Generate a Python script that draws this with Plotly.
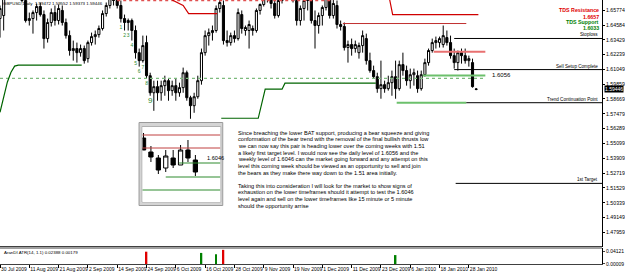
import plotly.graph_objects as go

# ---------------- data ----------------
opens = [1.6513,1.6537,1.6698,1.6859,1.6900,1.6940,1.6819,1.6658,1.6497,1.6513,
         1.6561,1.6610,1.6545,1.6352,1.6481,1.6561,1.6497,1.6578,1.6481,1.6376,
         1.6256,1.6272,1.6239,1.6272,1.6191,1.6320,1.6368,1.6384,1.6433,1.6553,
         1.6618,1.6682,1.6658,1.6618,1.6513,1.6481,1.6497,1.6417,1.6239,1.6175,
         1.6320,1.6054,1.5917,1.5966,1.5917,1.5974,1.6014,1.5934,1.5974,1.5917,
         1.5958,1.6078,1.5877,1.5813,1.5885,1.6014,1.6239,1.6376,1.6400,1.6417,
         1.6594,1.6618,1.6336,1.6320,1.6376,1.6352,1.6545,1.6417,1.6417,1.6433,
         1.6417,1.6578,1.6626,1.6682,1.6706,1.6634,1.6537,1.6658,1.6698,1.6722,
         1.6739,1.6658,1.6497,1.6594,1.6658,1.6682,1.6497,1.6457,1.6537,1.6602,
         1.6674,1.6537,1.6618,1.6465,1.6449,1.6280,1.6304,1.6272,1.6239,1.6296,
         1.6352,1.6175,1.6095,1.6046,1.5950,1.5982,1.5950,1.5998,1.6046,1.5950,
         1.6143,1.6095,1.6014,1.6062,1.6054,1.5950,1.6062,1.6159,1.6256,1.6320,
         1.6320,1.6304,1.6360,1.6320,1.6215,1.6159,1.6239,1.6215,1.6175,1.6159,
         1.59472]
highs = [1.6618,1.6739,1.6900,1.6980,1.7020,1.6980,1.6859,1.6698,1.6561,1.6578,
         1.6634,1.6642,1.6578,1.6513,1.6594,1.6618,1.6626,1.6618,1.6513,1.6417,
         1.6336,1.6320,1.6304,1.6296,1.6336,1.6400,1.6417,1.6457,1.6578,1.6642,
         1.6722,1.6755,1.6698,1.6658,1.6545,1.6513,1.6513,1.6457,1.6272,1.6376,
         1.6376,1.6078,1.6014,1.6014,1.6014,1.6054,1.6030,1.6014,1.6030,1.5998,
         1.6119,1.6095,1.5893,1.5917,1.6054,1.6272,1.6417,1.6433,1.6457,1.6618,
         1.6698,1.6658,1.6417,1.6400,1.6417,1.6594,1.6578,1.6457,1.6497,1.6457,
         1.6594,1.6634,1.6722,1.6739,1.6755,1.6674,1.6698,1.6739,1.6755,1.6779,
         1.6755,1.6698,1.6618,1.6698,1.6722,1.6698,1.6578,1.6561,1.6618,1.6698,
         1.6706,1.6674,1.6658,1.6497,1.6481,1.6336,1.6352,1.6336,1.6320,1.6417,
         1.6392,1.6239,1.6135,1.6078,1.6175,1.6014,1.6054,1.6095,1.6175,1.6175,
         1.6239,1.6135,1.6111,1.6111,1.6095,1.6095,1.6191,1.6272,1.6352,1.6368,
         1.6368,1.6457,1.6417,1.6376,1.6272,1.6256,1.6272,1.6272,1.6215,1.6191,
         1.59552]
lows = [1.6360,1.6417,1.6682,1.6819,1.6859,1.6779,1.6642,1.6481,1.6457,1.6392,
        1.6497,1.6529,1.6272,1.6320,1.6449,1.6457,1.6465,1.6457,1.6352,1.6215,
        1.6175,1.6159,1.6207,1.6151,1.6159,1.6296,1.6304,1.6360,1.6417,1.6529,
        1.6594,1.6618,1.6594,1.6481,1.6417,1.6417,1.6336,1.6191,1.6127,1.6159,
        1.6030,1.5893,1.5772,1.5853,1.5853,1.5893,1.5853,1.5893,1.5853,1.5885,
        1.5917,1.5853,1.5708,1.5756,1.5869,1.5982,1.6215,1.6296,1.6336,1.6400,
        1.6561,1.6304,1.6288,1.6296,1.6320,1.6336,1.6392,1.6376,1.6272,1.6376,
        1.6400,1.6545,1.6610,1.6642,1.6594,1.6513,1.6521,1.6634,1.6674,1.6682,
        1.6642,1.6457,1.6457,1.6497,1.6578,1.6473,1.6272,1.6392,1.6457,1.6578,
        1.6513,1.6513,1.6433,1.6417,1.6256,1.6159,1.6215,1.6239,1.6191,1.6239,
        1.6143,1.6078,1.6030,1.5917,1.5869,1.5917,1.5934,1.5893,1.5869,1.5934,
        1.6054,1.5974,1.5950,1.5974,1.5917,1.5934,1.6046,1.6135,1.6239,1.6272,
        1.6280,1.6280,1.6296,1.6191,1.6111,1.6095,1.6151,1.6151,1.6127,1.5958,
        1.59373]
closes = [1.6594,1.6698,1.6859,1.6900,1.6940,1.6819,1.6658,1.6497,1.6513,1.6561,
          1.6610,1.6545,1.6352,1.6481,1.6561,1.6497,1.6594,1.6481,1.6376,1.6256,
          1.6272,1.6239,1.6272,1.6175,1.6320,1.6368,1.6384,1.6433,1.6553,1.6618,
          1.6682,1.6658,1.6618,1.6513,1.6481,1.6497,1.6417,1.6239,1.6175,1.6296,
          1.6054,1.5917,1.5966,1.5917,1.5974,1.6014,1.5934,1.5974,1.5917,1.5958,
          1.6078,1.5877,1.5813,1.5885,1.6014,1.6239,1.6376,1.6400,1.6417,1.6594,
          1.6642,1.6336,1.6320,1.6376,1.6352,1.6561,1.6433,1.6441,1.6465,1.6417,
          1.6578,1.6626,1.6682,1.6706,1.6634,1.6537,1.6658,1.6698,1.6722,1.6739,
          1.6658,1.6497,1.6594,1.6658,1.6682,1.6497,1.6457,1.6537,1.6602,1.6674,
          1.6537,1.6634,1.6465,1.6449,1.6280,1.6304,1.6272,1.6304,1.6296,1.6376,
          1.6175,1.6095,1.6046,1.5950,1.5982,1.5950,1.5998,1.6046,1.5950,1.6143,
          1.6095,1.6014,1.6062,1.6078,1.5950,1.6062,1.6159,1.6256,1.6320,1.6336,
          1.6352,1.6376,1.6320,1.6215,1.6159,1.6239,1.6215,1.6175,1.6191,1.5966,
          1.59446]
bars = list(range(len(closes)))

date_tick_bars = [0, 8, 16, 24, 32, 40, 48, 56, 64, 72, 80, 88, 96, 104, 112, 120, 128]
date_tick_labels = ["30 Jul 2009", "11 Aug 2009", "21 Aug 2009", "2 Sep 2009", "14 Sep 2009",
                    "24 Sep 2009", "6 Oct 2009", "16 Oct 2009", "28 Oct 2009", "9 Nov 2009",
                    "19 Nov 2009", "1 Dec 2009", "11 Dec 2009", "23 Dec 2009", "6 Jan 2010",
                    "18 Jan 2010", "28 Jan 2010"]
price_ticks = [1.65774, 1.64584, 1.63429, 1.62239, 1.61049, 1.59859, 1.58669, 1.57479,
               1.56289, 1.55099, 1.53909, 1.52719, 1.51529, 1.50339, 1.49149, 1.47959, 1.46769]

# indicator (AranDI ATR) histogram
atr_bars = [40, 55, 59, 61, 108]
atr_values = [0.040, 0.036, 0.032, 0.046, 0.029]
atr_colors = ["#e00000", "#008000", "#008000", "#e00000", "#008000"]
atr_ticks = [0.04121, 0.00009]

# TDS levels
tds_resistance = 1.6657
tds_support = 1.6033
daily_level = 1.6056
stoploss = 1.6353
sell_setup = 1.6103
trend_cont = 1.5837
first_target = 1.5189

# stepped indicator lines (bar index, price)
red_step1_x = [47, 50, 51.5, 59.3]
red_step1_y = [1.6662, 1.6618, 1.6553, 1.6553]
red_step2_x = [106.4, 107.2, 130.6]
red_step2_y = [1.6662, 1.6545, 1.6545]
red_thin_x = [93.6, 127.3]
red_thin_y = [1.6473, 1.6473]
red_thick_x = [118.4, 132.5]
red_thick_y = [1.6247, 1.6247]
green_step1_x = [0, 1, 2, 3, 4, 5, 22.3]
green_step1_y = [1.5760, 1.5873, 1.6002, 1.6082, 1.6131, 1.6139, 1.6139]
green_step2_x = [60.4, 70.5, 72.4, 77.0, 77.8, 102.6]
green_step2_y = [1.5712, 1.5712, 1.5946, 1.5946, 1.5994, 1.5994]
lgreen1_x = [115.4, 132.5]
lgreen2_x = [108.3, 127.3]

# TD sequential counts
td_bars = [33, 34, 35, 36, 37, 38, 39, 40, 41]
td_labels = ["1", "2", "3", "4", "5", "6", "7", "8", "9"]

# inset (weekly) chart
in_open = [1.6421, 1.6211, 1.6121, 1.5971, 1.6121, 1.6016, 1.6241, 1.6091]
in_high = [1.6496, 1.6301, 1.6166, 1.6241, 1.6241, 1.6316, 1.6391, 1.6166]
in_low = [1.6241, 1.6061, 1.5881, 1.5911, 1.5971, 1.6016, 1.6061, 1.5851]
in_close = [1.6241, 1.6136, 1.5941, 1.6151, 1.6016, 1.6241, 1.6121, 1.5911]
in_red_levels = [1.6466, 1.6271]
in_level = 1.6046

para_lines = [
    "Since breaching the lower BAT support, producing a bear squeeze and giving",
    "conformation of the bear trend with the removal of the final bullish thrusts low",
    "we can now say this pair is heading lower over the coming weeks with 1.51",
    "a likely first target level. I would now see the daily level of 1.6056 and the",
    "weekly level of 1.6046 can the market going forward and any attempt on this",
    "level this coming week should be viewed as an opportunity to sell and join",
    "the bears as they make there way down to the 1.51 area initially.",
    "",
    "Taking this into consideration I will look for the market to show signs of",
    "exhaustion on the lower timeframes should it attempt to test the 1.6046",
    "level again and sell on the lower timeframes like 15 minute or 5 minute",
    "should the opportunity arrise",
]

# ---------------- layout helpers ----------------
PW, PH = 604, 264
FONT = "Liberation Sans, Arial, sans-serif"


def pxx(px):
    return px / PW


def pxy(py):
    return (PH - py) / PH


fig = go.Figure()

fig.add_trace(go.Candlestick(
    x=bars, open=opens, high=highs, low=lows, close=closes,
    increasing=dict(fillcolor="white", line=dict(color="black", width=1)),
    decreasing=dict(fillcolor="black", line=dict(color="black", width=1)),
    whiskerwidth=0, xaxis="x", yaxis="y", showlegend=False, hoverinfo="skip"))

LASTX = 164.35


def hline(x0, x1, y, color, width=1, dash="solid"):
    fig.add_trace(go.Scatter(x=[x0, x1], y=[y, y], mode="lines",
                             line=dict(color=color, width=width, dash=dash),
                             xaxis="x", yaxis="y", showlegend=False, hoverinfo="skip"))


def pline(xs, ys, color, width=1):
    fig.add_trace(go.Scatter(x=xs, y=ys, mode="lines", line=dict(color=color, width=width),
                             xaxis="x", yaxis="y", showlegend=False, hoverinfo="skip"))


hline(0, 132.5, tds_support, "#7cba7c", 1.2, "dot")
hline(32, 91, tds_resistance, "#e05050", 1.2, "dot")
pline(red_step1_x, red_step1_y, "#d00000", 1.2)
pline(red_step2_x, red_step2_y, "#d00000", 1.2)
pline(red_thin_x, red_thin_y, "#c03030", 1)
pline(red_thick_x, red_thick_y, "#e87070", 2)
pline(green_step1_x, green_step1_y, "#006400", 1.2)
pline(green_step2_x, green_step2_y, "#006400", 1.2)
hline(lgreen1_x[0], lgreen1_x[1], daily_level, "#6cc06c", 2)
hline(lgreen2_x[0], lgreen2_x[1], trend_cont, "#6cc06c", 2)
hline(124, LASTX, stoploss, "black", 1)
hline(124, LASTX, sell_setup, "black", 1)
hline(127.3, LASTX, trend_cont, "black", 1)
hline(124.4, LASTX, first_target, "black", 1)

# TD sequential numbers
fig.add_trace(go.Scatter(
    x=td_bars, y=[lows[b] - 0.004 for b in td_bars], mode="text", text=td_labels,
    textfont=dict(color="#2e8b2e", size=[5, 5, 5, 5, 5, 5, 5, 5, 8], family=FONT),
    xaxis="x", yaxis="y", showlegend=False, hoverinfo="skip"))

# indicator histogram
fig.add_trace(go.Bar(x=atr_bars, y=atr_values, marker=dict(color=atr_colors, line=dict(width=0)),
                     width=0.45, xaxis="x", yaxis="y2", showlegend=False, hoverinfo="skip"))

# inset candles
in_x = list(range(len(in_close)))
fig.add_trace(go.Candlestick(
    x=in_x, open=in_open, high=in_high, low=in_low, close=in_close,
    increasing=dict(fillcolor="white", line=dict(color="black", width=1)),
    decreasing=dict(fillcolor="black", line=dict(color="black", width=1)),
    whiskerwidth=0, xaxis="x3", yaxis="y3", showlegend=False, hoverinfo="skip"))
for lv in in_red_levels:
    fig.add_trace(go.Scatter(x=[-0.2, 10.4], y=[lv, lv], mode="lines",
                             line=dict(color="#c04040", width=1), xaxis="x3", yaxis="y3",
                             showlegend=False, hoverinfo="skip"))
fig.add_trace(go.Scatter(x=[4.8, 10.4], y=[in_level, in_level], mode="lines",
                         line=dict(color="#2e8b2e", width=1), xaxis="x3", yaxis="y3",
                         showlegend=False, hoverinfo="skip"))
fig.add_trace(go.Scatter(x=[3.0, 10.4], y=[1.5836, 1.5836], mode="lines",
                         line=dict(color="#2e8b2e", width=1), xaxis="x3", yaxis="y3",
                         showlegend=False, hoverinfo="skip"))
fig.add_trace(go.Scatter(x=[-0.2, 10.4], y=[1.5641, 1.5641], mode="lines",
                         line=dict(color="#2e8b2e", width=1), xaxis="x3", yaxis="y3",
                         showlegend=False, hoverinfo="skip"))

shapes = [
    # inset frame
    dict(type="rect", xref="paper", yref="paper", x0=pxx(139.5), x1=pxx(223.5),
         y0=pxy(205.5), y1=pxy(122.5), fillcolor="#d4d4d4", line=dict(color="#9a9a9a", width=1),
         layer="below"),
    dict(type="rect", xref="paper", yref="paper", x0=pxx(142.5), x1=pxx(221.5),
         y0=pxy(202), y1=pxy(126.5), fillcolor="#f2f2f2", line=dict(color="#b0b0b0", width=1),
         layer="below"),
    # panel separators
    dict(type="line", xref="paper", yref="paper", x0=0, x1=1, y0=pxy(246.5), y1=pxy(246.5),
         line=dict(color="#404040", width=1)),
    dict(type="line", xref="paper", yref="paper", x0=0, x1=1, y0=pxy(248), y1=pxy(248),
         line=dict(color="#404040", width=1)),
]

ann = []
for k, t in enumerate(para_lines):
    if t:
        ann.append(dict(text=t, xref="paper", yref="paper", x=pxx(237), y=pxy(132.7 + 6.64 * k),
                        xanchor="left", yanchor="middle", showarrow=False,
                        font=dict(size=5.6, color="black", family=FONT)))

legend_items = [("TDS Resistance", 10, "#e00000"), (f"{tds_resistance:.4f}", 16.5, "#e00000"),
                ("TDS Support", 22, "#008000"), (f"{tds_support:.4f}", 28, "#008000")]
for t, py, c in legend_items:
    ann.append(dict(text=f"<b>{t}</b>", xref="paper", yref="paper", x=pxx(603), y=pxy(py),
                    xanchor="right", yanchor="middle", showarrow=False,
                    font=dict(size=5.3, color=c, family=FONT)))

for t, lv in [("Stoploss", stoploss), ("Sell Setup Complete", sell_setup),
              ("Trend Continuation Point", trend_cont), ("1st Target", first_target)]:
    ann.append(dict(text=t, xref="paper", yref="y", x=pxx(602), y=lv, xanchor="right",
                    yanchor="bottom", showarrow=False, yshift=-1,
                    font=dict(size=4.6, color="black", family=FONT)))

ann.append(dict(text=f"{daily_level:.4f}", xref="paper", yref="y", x=pxx(492), y=daily_level,
                xanchor="left", yanchor="middle", showarrow=False,
                font=dict(size=6, color="black", family=FONT)))
ann.append(dict(text=f"{in_level:.4f}", xref="paper", yref="y3", x=pxx(206), y=in_level,
                xanchor="left", yanchor="bottom", showarrow=False,
                font=dict(size=5.6, color="black", family=FONT)))
ann.append(dict(text="GBPUSD,Daily  1.59472 1.59552 1.59373 1.59446", xref="paper", yref="paper",
                x=pxx(1), y=pxy(4), xanchor="left", yanchor="middle", showarrow=False,
                font=dict(size=4.4, color="black", family=FONT)))
ann.append(dict(text="AranDI ATR(14, 1.1) 0.02388 0.00179", xref="paper", yref="paper",
                x=pxx(2), y=pxy(252.5), xanchor="left", yanchor="middle", showarrow=False,
                font=dict(size=4.4, color="black", family=FONT)))
ann.append(dict(text=f"{closes[-1]:.5f}", xref="paper", yref="y", x=1.0, y=closes[-1],
                xanchor="left", yanchor="middle", showarrow=False, bgcolor="black",
                borderpad=0, xshift=2, font=dict(size=5, color="white", family=FONT)))

fig.update_layout(
    width=625, height=273, margin=dict(l=0, r=21, t=0, b=9),
    paper_bgcolor="white", plot_bgcolor="white", boxgap=0.18,
    font=dict(family=FONT, color="black"),
    xaxis=dict(domain=[0, 1], range=[0, LASTX], anchor="y2", showgrid=False, zeroline=False,
               tickmode="array", tickvals=date_tick_bars, ticktext=date_tick_labels,
               ticks="outside", ticklen=3, tickcolor="black", ticklabelposition="outside right",
               tickangle=0, tickfont=dict(size=5, family=FONT), showline=True,
               linecolor="#404040", rangeslider=dict(visible=False), fixedrange=True),
    yaxis=dict(domain=[pxy(246.5), 1], range=[1.4682, 1.6662], side="right", anchor="x",
               showgrid=False, zeroline=False, tickmode="array", tickvals=price_ticks,
               ticktext=[f"{v:.5f}" for v in price_ticks], ticks="outside", ticklen=2,
               tickcolor="black", tickfont=dict(size=5.2, family=FONT), showline=True,
               linecolor="black", fixedrange=True),
    yaxis2=dict(domain=[0, pxy(248)], range=[0, 0.052], side="right", anchor="x",
                showgrid=False, zeroline=False, tickmode="array", tickvals=atr_ticks,
                ticktext=[f"{v:.5f}" for v in atr_ticks], ticks="outside", ticklen=2,
                tickfont=dict(size=5, family=FONT), showline=True, linecolor="black",
                fixedrange=True),
    xaxis3=dict(domain=[pxx(143), pxx(221)], range=[-0.135, 10.36], anchor="y3",
                visible=False, rangeslider=dict(visible=False), fixedrange=True),
    yaxis3=dict(domain=[pxy(202), pxy(127)], range=[1.5461, 1.6586], anchor="x3",
                visible=False, fixedrange=True),
    shapes=shapes, annotations=ann,
)

fig.write_html("out.html")
